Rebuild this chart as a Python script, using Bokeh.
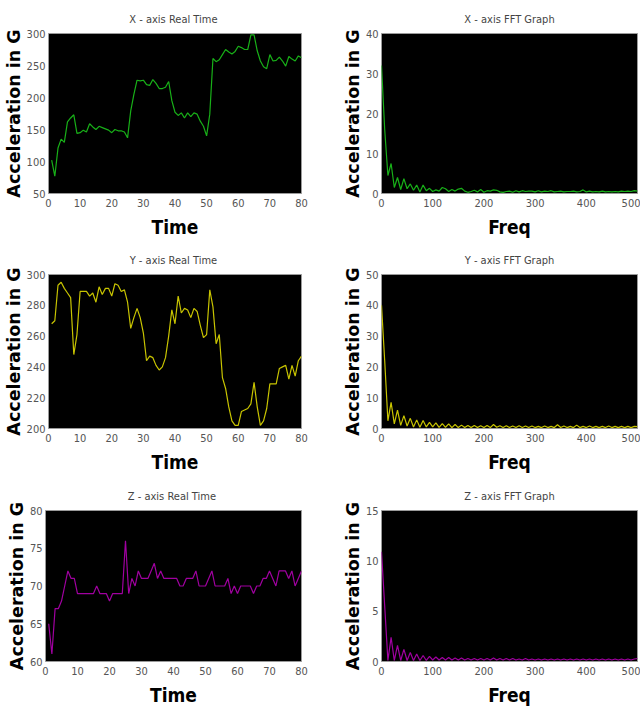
from bokeh.plotting import figure
from bokeh.layouts import column, row
from bokeh.models import FixedTicker, Range1d
from bokeh.embed import file_html
from bokeh.resources import INLINE

# ---------------- data ----------------
time_idx = list(range(1, 81))

acc_x = [102, 77, 121, 135, 130, 162, 168, 173, 144, 145,
         149, 146, 159, 154, 150, 155, 153, 151, 149, 145,
         150, 148, 148, 146, 137, 179, 205, 227, 226, 227,
         220, 219, 228, 222, 214, 214, 216, 225, 195, 177,
         172, 176, 168, 176, 170, 176, 174, 163, 155, 140,
         174, 261, 256, 259, 267, 275, 271, 268, 272, 280,
         278, 275, 275, 298, 298, 273, 257, 248, 245, 267,
         257, 258, 263, 257, 249, 264, 260, 257, 265, 262]

acc_y = [268, 270, 293, 295, 291, 288, 285, 248, 261, 289,
         289, 289, 286, 288, 282, 292, 287, 291, 291, 286,
         294, 293, 289, 290, 282, 265, 272, 278, 272, 262,
         244, 247, 246, 241, 238, 240, 246, 260, 277, 268,
         286, 275, 278, 277, 272, 278, 276, 267, 259, 261,
         290, 279, 255, 261, 233, 226, 214, 205, 202, 202,
         211, 212, 213, 216, 230, 214, 202, 205, 213, 229,
         229, 229, 239, 240, 241, 232, 241, 234, 244, 247]

acc_z = [65, 61, 67, 67, 68, 70, 72, 71, 71, 69,
         69, 69, 69, 69, 69, 70, 69, 69, 69, 68,
         69, 69, 69, 69, 76, 69, 71, 70, 72, 71,
         71, 71, 72, 73, 71, 72, 71, 71, 71, 71,
         71, 70, 70, 71, 71, 71, 72, 70, 70, 70,
         71, 72, 70, 70, 70, 70, 71, 69, 70, 69,
         70, 70, 70, 70, 69, 70, 70, 71, 71, 72,
         71, 70, 72, 72, 72, 71, 72, 70, 71, 72]

freq = [i * 500 / 80 for i in range(81)]

fft_x = [32, 16, 4.5, 7.5, 1.5, 4.0, 1.0, 3.7, 1.2, 2.4,
         0.8, 2.1, 0.4, 2.1, 0.7, 1.3, 0.5, 0.9, 0.6, 1.5,
         1.2, 0.5, 1.0, 0.6, 1.1, 1.3, 0.6, 0.3, 0.5, 0.8,
         0.4, 1.0, 0.3, 0.7, 0.6, 0.9, 0.8, 0.4, 0.3, 0.5,
         0.6, 0.3, 0.7, 0.4, 0.7, 0.5, 0.6, 0.6, 0.4, 0.7,
         0.4, 0.6, 0.5, 0.7, 0.4, 0.5, 0.6, 0.4, 0.5, 0.5,
         0.6, 0.4, 0.5, 0.9, 0.4, 0.6, 0.4, 0.5, 0.4, 0.6,
         0.4, 0.5, 0.4, 0.5, 0.4, 0.6, 0.5, 0.6, 0.5, 0.7,
         0.6]

fft_y = [40, 22, 2.5, 8.5, 1.5, 6.0, 1.0, 4.2, 0.8, 3.3,
         0.5, 2.8, 0.4, 2.6, 0.5, 2.0, 0.5, 1.8, 0.4, 1.6,
         0.4, 1.5, 0.3, 1.3, 0.3, 1.1, 0.3, 1.0, 0.3, 1.0,
         0.3, 0.9, 0.3, 1.0, 0.3, 1.3, 0.4, 0.9, 0.3, 0.9,
         0.3, 0.8, 0.3, 0.9, 0.3, 0.8, 0.3, 0.8, 0.3, 0.7,
         0.3, 0.8, 0.3, 0.7, 0.3, 1.2, 0.3, 0.8, 0.3, 0.7,
         0.3, 1.1, 0.3, 0.7, 0.3, 0.8, 0.3, 0.7, 0.3, 0.7,
         0.3, 0.8, 0.3, 0.7, 0.3, 0.7, 0.3, 0.7, 0.3, 0.7,
         0.6]

fft_z = [10.9, 5.5, 0.1, 2.4, 0.1, 1.6, 0.1, 1.2, 0.1, 0.9,
         0.1, 0.75, 0.1, 0.6, 0.1, 0.5, 0.15, 0.45, 0.15, 0.4,
         0.15, 0.4, 0.15, 0.35, 0.15, 0.35, 0.15, 0.3, 0.15, 0.3,
         0.15, 0.3, 0.15, 0.3, 0.15, 0.35, 0.15, 0.3, 0.15, 0.3,
         0.15, 0.3, 0.15, 0.25, 0.15, 0.3, 0.15, 0.25, 0.15, 0.25,
         0.15, 0.25, 0.15, 0.25, 0.15, 0.25, 0.15, 0.25, 0.15, 0.25,
         0.15, 0.25, 0.15, 0.25, 0.15, 0.25, 0.15, 0.25, 0.15, 0.25,
         0.15, 0.25, 0.15, 0.25, 0.15, 0.25, 0.15, 0.25, 0.15, 0.25,
         0.3]

time_ticks = [0, 10, 20, 30, 40, 50, 60, 70, 80]
freq_ticks = [0, 100, 200, 300, 400, 500]

NARROW = "DejaVu Sans Condensed, Roboto, sans-serif"
GREEN, YELLOW, MAGENTA = "#18b018", "#c8c400", "#a000a0"


def make_fig(title, xlabel, xs, ys, color, x_end, y_lo, y_hi, xticks, yticks,
             width, height, b_left, b_right, b_top, b_bottom):
    p = figure(width=width, height=height, output_backend="svg",
               toolbar_location=None, tools="",
               x_range=Range1d(0, x_end), y_range=Range1d(y_lo, y_hi),
               min_border_left=b_left, min_border_right=b_right,
               min_border_top=b_top, min_border_bottom=b_bottom)
    p.background_fill_color = "black"
    p.border_fill_color = "white"
    p.outline_line_color = "#9a9a9a"
    p.grid.visible = False
    p.line(xs, ys, line_color=color, line_width=1.2)

    p.title.text = title
    p.title.align = "center"
    p.title.text_font = NARROW
    p.title.text_font_size = "11px"
    p.title.text_font_style = "normal"
    p.title.text_color = "#444444"
    p.title.standoff = 15

    for ax in (p.xaxis[0], p.yaxis[0]):
        ax.axis_line_color = None
        ax.major_tick_line_color = None
        ax.minor_tick_line_color = None
        ax.major_tick_out = 0
        ax.major_tick_in = 0
        ax.minor_tick_out = 0
        ax.major_label_text_font = NARROW
        ax.major_label_text_font_size = "11px"
        ax.major_label_text_color = "#555555"

    p.xaxis.ticker = FixedTicker(ticks=xticks)
    p.yaxis.ticker = FixedTicker(ticks=yticks)
    p.xaxis.major_label_standoff = 5
    p.yaxis.major_label_standoff = 3

    p.xaxis.axis_label = xlabel
    p.xaxis.axis_label_text_font = NARROW
    p.xaxis.axis_label_text_font_size = "19px"
    p.xaxis.axis_label_text_font_style = "bold"
    p.xaxis.axis_label_text_color = "black"
    p.xaxis.axis_label_standoff = 6

    p.yaxis.axis_label = "Acceleration in G"
    p.yaxis.axis_label_text_font = "DejaVu Sans"
    p.yaxis.axis_label_text_font_size = "17.5px"
    p.yaxis.axis_label_text_font_style = "bold"
    p.yaxis.axis_label_text_color = "black"
    p.yaxis.axis_label_standoff = 0
    return p


W1, W2 = 320, 320
L1, R1 = 45, 19
L2, R2 = 61, 3

p1 = make_fig("X - axis Real  Time", "Time", time_idx, acc_x, GREEN, 80, 50, 300,
              time_ticks, [50, 100, 150, 200, 250, 300], W1, 244, L1, R1, 33, 51)
p2 = make_fig("X - axis FFT Graph", "Freq", freq, fft_x, GREEN, 500, 0, 40,
              freq_ticks, [0, 10, 20, 30, 40], W2, 244, L2, R2, 33, 51)
p3 = make_fig("Y - axis Real  Time", "Time", time_idx, acc_y, YELLOW, 80, 200, 300,
              time_ticks, [200, 220, 240, 260, 280, 300], W1, 236, L1, R1, 24, 52)
p4 = make_fig("Y - axis FFT Graph", "Freq", freq, fft_y, YELLOW, 500, 0, 50,
              freq_ticks, [0, 10, 20, 30, 40, 50], W2, 236, L2, R2, 24, 52)
p5 = make_fig("Z - axis Real  Time", "Time", time_idx, acc_z, MAGENTA, 80, 60, 80,
              time_ticks, [60, 65, 70, 75, 80], W1, 228, L1, R1, 24, 44)
p6 = make_fig("Z - axis FFT Graph", "Freq", freq, fft_z, MAGENTA, 500, 0, 15,
              freq_ticks, [0, 5, 10, 15], W2, 228, L2, R2, 24, 44)

layout = column(row(p1, p2), row(p3, p4), row(p5, p6))

open("out.html", "w").write(file_html(layout, INLINE))
